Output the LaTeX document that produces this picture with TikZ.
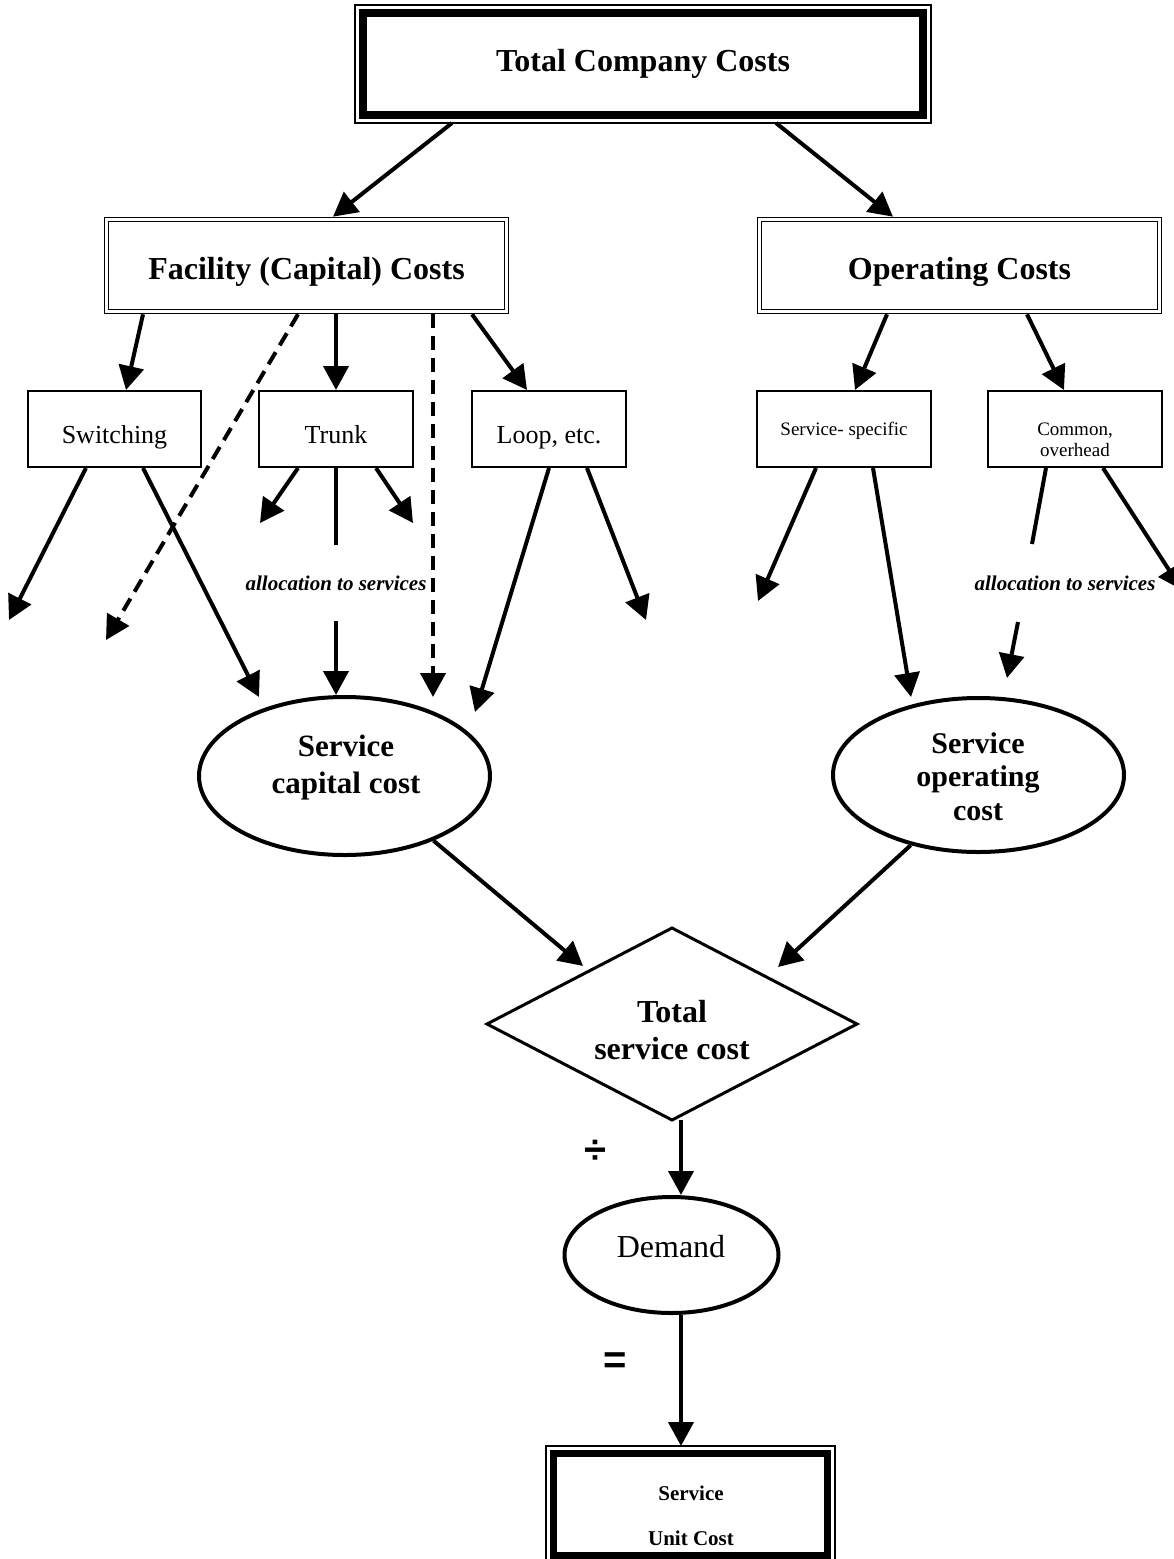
\documentclass[tikz,border=0pt]{standalone}
\usepackage{fontspec}
\setmainfont{Liberation Serif}
\newfontfamily\opsfont{Liberation Sans}
\usetikzlibrary{arrows.meta,shapes.geometric,fit,calc}
\begin{document}
\begin{tikzpicture}[x=1pt,y=-1pt,
  every node/.style={outer sep=0pt,inner sep=0pt},
  arr/.style={line width=4pt,-{Triangle[length=24pt,width=25pt]}},
  stub/.style={line width=4pt},
  dsh/.style={arr,dash pattern=on 14pt off 8pt},
  heavybox/.style={draw,line width=8pt},
  framebox/.style={draw,line width=1.5pt},
  dblbox/.style={draw,line width=1.6pt,double=white,double distance=2.4pt,
    minimum width=400pt,minimum height=92pt,outer sep=2.8pt},
  smallbox/.style={draw,line width=2pt,minimum height=76pt,outer sep=1pt},
  oval/.style={ellipse,draw,line width=4pt,outer sep=2pt},
  choice/.style={diamond,draw,line width=3pt,minimum width=370pt,minimum height=192pt},
  title/.style={anchor=base,font=\bfseries\fontsize{32}{38}\selectfont},
  boxtext/.style={anchor=base,font=\fontsize{26}{30}\selectfont},
  smalltext/.style={anchor=base,align=center,font=\fontsize{19}{21}\selectfont},
  alloc/.style={anchor=base,font=\bfseries\itshape\fontsize{21}{25}\selectfont},
  ovaltext/.style={anchor=base,align=center,font=\bfseries\fontsize{31}{37}\selectfont},
  opsign/.style={font=\opsfont\bfseries\fontsize{40}{46}\selectfont},
]
\useasboundingbox (0,0) rectangle (1174,1559);
\fill[white] (0,0) rectangle (1174,1559);
\clip (0,0) rectangle (1174,1559);

% ---- boxes and shapes ----
\node[heavybox,minimum width=560pt,minimum height=102pt] (top) at (643,64) {};
\node[framebox,fit=(top),inner sep=8pt] (topframe) {};
\node[title] (toptxt) at (643,71) {Total Company Costs};

\node[dblbox] (fac) at (306.5,265.5) {};
\node[title] (factxt) at (306.5,279) {Facility (Capital) Costs};
\node[dblbox] (op) at (959.5,265.5) {};
\node[title] (optxt) at (959.5,279) {Operating Costs};

\node[smallbox,minimum width=173pt] (sw) at (114.5,429) {};
\node[boxtext] (swtxt) at (114.5,443) {Switching};
\node[smallbox,minimum width=154pt] (tr) at (336,429) {};
\node[boxtext] (trtxt) at (336,443) {Trunk};
\node[smallbox,minimum width=154pt] (lp) at (549,429) {};
\node[boxtext] (lptxt) at (549,443) {Loop, etc.};
\node[smallbox,minimum width=174pt] (ss) at (844,429) {};
\node[smalltext] (sstxt) at (844,435) {Service- specific};
\node[smallbox,minimum width=174pt] (cm) at (1075,429) {};
\node[smalltext] (cmtxt) at (1075,456) {Common,\\overhead};

\node[oval,minimum width=291pt,minimum height=158pt] (cap) at (344.5,776) {};
\node[ovaltext] (captxt) at (346,793) {Service\\capital cost};
\node[oval,minimum width=291pt,minimum height=154pt] (opc) at (978.5,775) {};
\node[ovaltext,font=\bfseries\fontsize{30}{33.5}\selectfont] (opctxt) at (978,820) {Service\\operating\\cost};

\node[choice] (tot) at (672,1024) {};
\node[ovaltext,font=\bfseries\fontsize{32}{37}\selectfont] (tottxt) at (672,1059) {Total\\service cost};

\node[oval,minimum width=214pt,minimum height=116pt] (dem) at (671.5,1255) {};
\node[anchor=base,font=\fontsize{32}{38}\selectfont] (demtxt) at (671,1257) {Demand};

\node[heavybox,line width=7pt,minimum width=274pt,minimum height=102pt] (unit) at (690.5,1504.5) {};
\node[framebox,fit=(unit),inner sep=7.5pt] (unitframe) {};
\node[anchor=base,align=center,font=\bfseries\fontsize{21}{45}\selectfont] (unittxt) at (691,1545) {Service\\Unit Cost};

\node[alloc] (allocA) at (336,590) {allocation to services};
\node[alloc] (allocB) at (1065,590) {allocation to services};
\node[opsign] (divsign) at (595,1152) {÷};
\node[opsign] (eqsign) at (615,1363) {=};

% ---- free ends of connectors ----
\coordinate (swL) at (9,620);
\coordinate (capA) at (259,697);
\coordinate (capB) at (475,712);
\coordinate (trL) at (260,523);
\coordinate (trR) at (413,523);
\coordinate (trGapA) at (336,545);
\coordinate (trGapB) at (336,621);
\coordinate (dtipA) at (106,640);
\coordinate (dtipB) at (433,697);
\coordinate (lpR) at (646,620);
\coordinate (ssL) at (758,601);
\coordinate (opcA) at (911,697);
\coordinate (cmGapA) at (1032,544);
\coordinate (cmGapB) at (1018,622);
\coordinate (opcB) at (1007,678);
\coordinate (cmR) at (1182,590);
\coordinate (totA) at (583,966);
\coordinate (totB) at (778,967);

% ---- connectors ----
\draw[arr] (452,0 |- topframe.south) -- (333,0 |- fac.north);
\draw[arr] (776,0 |- topframe.south) -- (893,0 |- op.north);

\draw[arr] (143,0 |- fac.south) -- (126,0 |- sw.north);
\draw[arr] (fac.south -| tr.north) -- (tr.north);
\draw[arr] (472,0 |- fac.south) -- (527,0 |- lp.north);
\draw[dsh] (298,0 |- fac.south) -- (dtipA);
\draw[dsh] (433,0 |- fac.south) -- (dtipB);

\draw[arr] (887,0 |- op.south) -- (855,0 |- ss.north);
\draw[arr] (1027,0 |- op.south) -- (1064,0 |- cm.north);

\draw[arr] (86,0 |- sw.south) -- (swL);
\draw[arr] (143,0 |- sw.south) -- (capA);
\draw[arr] (298,0 |- tr.south) -- (trL);
\draw[stub] (tr.south) -- (trGapA);
\draw[arr] (trGapB) -- (tr.south |- cap.north);
\draw[arr] (376,0 |- tr.south) -- (trR);
\draw[arr] (549,0 |- lp.south) -- (capB);
\draw[arr] (587,0 |- lp.south) -- (lpR);

\draw[arr] (816,0 |- ss.south) -- (ssL);
\draw[arr] (873,0 |- ss.south) -- (opcA);
\draw[stub] (1046,0 |- cm.south) -- (cmGapA);
\draw[arr] (cmGapB) -- (opcB);
\draw[arr] (1103,0 |- cm.south) -- (cmR);

\draw[arr] (cap.-36) -- (totA);
\draw[arr] (opc.-134) -- (totB);
\draw[arr] (681,0 |- tot.south) -- (681,0 |- dem.north);
\draw[arr] (681,0 |- dem.south) -- (681,0 |- unitframe.north);
\end{tikzpicture}
\end{document}
